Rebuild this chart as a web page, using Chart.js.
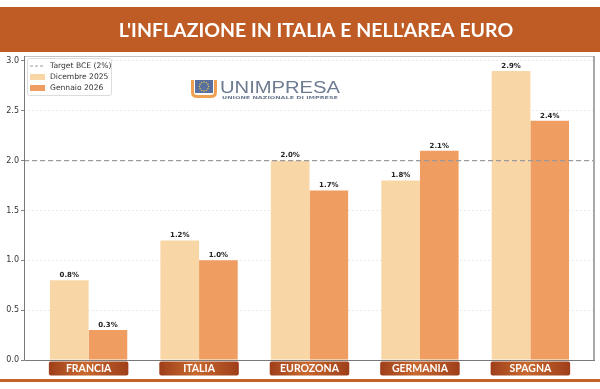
<!DOCTYPE html>
<html>
<head>
<meta charset="utf-8">
<script src="https://cdn.jsdelivr.net/npm/chart.js@4.4.1/dist/chart.umd.min.js"></script>
<style>
  html, body { margin: 0; padding: 0; background: #fff; }
  #wrap { width: 600px; height: 389px; }
</style>
</head>
<body>
<div id="wrap"><canvas id="inflChart" width="600" height="389"></canvas></div>
<script>
// dati
const paesi = ['FRANCIA', 'ITALIA', 'EUROZONA', 'GERMANIA', 'SPAGNA'];
const dicembre2025 = [0.8, 1.2, 2.0, 1.8, 2.9];
const gennaio2026 = [0.3, 1.0, 1.7, 2.1, 2.4];
const targetBce = 2.0;
const yTicks = [0, 0.5, 1.0, 1.5, 2.0, 2.5, 3.0];
const etichette = ['Target BCE (2%)', 'Dicembre 2025', 'Gennaio 2026'];
const titolo = "L'INFLAZIONE IN ITALIA E NELL'AREA EURO";

const X_MIN = -0.585, X_MAX = 4.585;
const COL_DIC = '#F8D6A6';
const COL_GEN = '#F09D62';
const COL_TARGET = '#9a9a9a';

function fitText(ctx, text, x, y, w) {
    const m = ctx.measureText(text).width;
    ctx.save();
    ctx.translate(x, y);
    ctx.scale(w / m, 1);
    ctx.fillText(text, 0, 0);
    ctx.restore();
}

const decorazioni = {
    id: 'decorazioni',
    beforeDraw(chart) {
        const ctx = chart.ctx;
        ctx.save();
        ctx.fillStyle = '#fff';
        ctx.fillRect(0, 0, chart.width, chart.height);
        // fascia del titolo
        ctx.fillStyle = '#BF5B24';
        ctx.fillRect(0, 7, chart.width, 45);
        ctx.fillStyle = '#fff';
        ctx.font = 'bold 19.5px Lato';
        ctx.textAlign = 'center';
        ctx.textBaseline = 'middle';
        ctx.fillText(titolo, 316, 31);
        // linea in basso
        ctx.fillStyle = '#C4622C';
        ctx.fillRect(0, 379, chart.width, 3);
        ctx.restore();
    },
    beforeDatasetsDraw(chart) {
        // logo Unimpresa
        const ctx = chart.ctx;
        ctx.save();
        ctx.fillStyle = '#5B6F9E';
        ctx.fillRect(195, 80, 18, 13);
        ctx.fillStyle = '#E8D24A';
        for (let k = 0; k < 12; k++) {
            const a = k * Math.PI / 6;
            ctx.beginPath();
            ctx.arc(204 + Math.cos(a) * 4.5, 86.5 + Math.sin(a) * 4.5, 0.7, 0, Math.PI * 2);
            ctx.fill();
        }
        ctx.strokeStyle = '#F0A050';
        ctx.lineWidth = 3;
        ctx.beginPath();
        ctx.moveTo(192.5, 80);
        ctx.lineTo(192.5, 92);
        ctx.quadraticCurveTo(192.5, 96.5, 197, 96.5);
        ctx.lineTo(211, 96.5);
        ctx.quadraticCurveTo(215.5, 96.5, 215.5, 92);
        ctx.lineTo(215.5, 80);
        ctx.stroke();
        ctx.fillStyle = '#6E7B91';
        ctx.textBaseline = 'alphabetic';
        ctx.font = '16px "Liberation Sans"';
        fitText(ctx, 'UNIMPRESA', 220, 93, 120);
        ctx.font = 'bold 4px "DejaVu Sans"';
        fitText(ctx, 'UNIONE NAZIONALE DI IMPRESE', 222, 98.5, 116);
        ctx.restore();
    },
    afterDraw(chart) {
        const ctx = chart.ctx;
        const a = chart.chartArea;
        const xs = chart.scales.x;
        ctx.save();
        // cornice
        ctx.strokeStyle = '#c4c4c4';
        ctx.lineWidth = 1;
        ctx.beginPath();
        ctx.moveTo(a.left, a.top + 0.5);
        ctx.lineTo(a.right, a.top + 0.5);
        ctx.stroke();
        ctx.strokeStyle = '#a8a8a8';
        ctx.lineWidth = 2;
        ctx.beginPath();
        ctx.moveTo(a.right - 1, a.top);
        ctx.lineTo(a.right - 1, a.bottom);
        ctx.stroke();
        ctx.strokeStyle = '#7a7a7a';
        ctx.lineWidth = 1;
        ctx.beginPath();
        ctx.moveTo(a.left + 0.5, a.top);
        ctx.lineTo(a.left + 0.5, a.bottom + 0.5);
        ctx.lineTo(a.right, a.bottom + 0.5);
        ctx.stroke();

        // valori sopra le barre
        ctx.fillStyle = '#222';
        ctx.font = 'bold 7px "DejaVu Sans"';
        ctx.textAlign = 'center';
        ctx.textBaseline = 'bottom';
        [1, 2].forEach(di => {
            const vals = chart.data.datasets[di].data;
            chart.getDatasetMeta(di).data.forEach((bar, i) => {
                ctx.fillText(vals[i].y.toFixed(1) + '%', bar.x, bar.y - 1.5);
            });
        });

        // etichette dei paesi
        paesi.forEach((p, i) => {
            const l = xs.getPixelForValue(i - 0.36);
            const r = xs.getPixelForValue(i + 0.36);
            const g = ctx.createLinearGradient(l, 0, r, 0);
            g.addColorStop(0, '#9E3F1A');
            g.addColorStop(0.45, '#C8692F');
            g.addColorStop(1, '#9E3F1A');
            ctx.fillStyle = g;
            ctx.beginPath();
            ctx.roundRect(l, 361.5, r - l, 14, 2);
            ctx.fill();
            ctx.fillStyle = '#fff';
            ctx.font = 'bold 10.5px Lato';
            ctx.textBaseline = 'middle';
            ctx.fillText(p, (l + r) / 2, 369);
        });

        // legenda
        ctx.fillStyle = 'rgba(255,255,255,0.85)';
        ctx.strokeStyle = '#dcdcdc';
        ctx.lineWidth = 1;
        ctx.beginPath();
        ctx.roundRect(27.5, 58.5, 84, 37, 2);
        ctx.fill();
        ctx.stroke();
        ctx.strokeStyle = COL_TARGET;
        ctx.lineWidth = 1.2;
        ctx.setLineDash([3, 2]);
        ctx.beginPath();
        ctx.moveTo(30, 66);
        ctx.lineTo(45, 66);
        ctx.stroke();
        ctx.setLineDash([]);
        ctx.fillStyle = COL_DIC;
        ctx.fillRect(30, 74, 15, 6);
        ctx.fillStyle = COL_GEN;
        ctx.fillRect(30, 85, 15, 6);
        ctx.fillStyle = '#333';
        ctx.font = '7.6px "DejaVu Sans"';
        ctx.textAlign = 'left';
        ctx.textBaseline = 'middle';
        etichette.forEach((t, k) => ctx.fillText(t, 50, 66.5 + k * 11));
        ctx.restore();
    }
};

const ctx = document.getElementById('inflChart').getContext('2d');
new Chart(ctx, {
    type: 'bar',
    data: {
        datasets: [
            {
                type: 'line',
                label: etichette[0],
                data: [{ x: X_MIN, y: targetBce }, { x: X_MAX, y: targetBce }],
                borderColor: COL_TARGET,
                borderWidth: 1.2,
                borderDash: [5, 3],
                pointRadius: 0,
                order: 0
            },
            {
                label: etichette[1],
                data: paesi.map((p, i) => ({ x: i, y: dicembre2025[i] })),
                backgroundColor: COL_DIC,
                categoryPercentage: 0.7,
                barPercentage: 1.0,
                order: 1
            },
            {
                label: etichette[2],
                data: paesi.map((p, i) => ({ x: i, y: gennaio2026[i] })),
                backgroundColor: COL_GEN,
                categoryPercentage: 0.7,
                barPercentage: 1.0,
                order: 1
            }
        ]
    },
    options: {
        responsive: false,
        animation: false,
        layout: { padding: { top: 56, right: 5, bottom: 0, left: 0 } },
        plugins: {
            legend: { display: false },
            tooltip: { enabled: false },
            title: { display: false }
        },
        scales: {
            x: {
                type: 'linear',
                min: X_MIN,
                max: X_MAX,
                offset: false,
                afterBuildTicks: s => { s.ticks = paesi.map((p, i) => ({ value: i })); },
                afterFit: s => { s.height = 29; },
                ticks: { display: false },
                grid: { display: false, offset: false },
                border: { display: false }
            },
            y: {
                min: 0,
                max: 3.05,
                afterBuildTicks: s => { s.ticks = yTicks.map(v => ({ value: v })); },
                afterFit: s => { s.width = 24; },
                ticks: {
                    callback: v => v.toFixed(1),
                    color: '#333',
                    font: { family: 'DejaVu Sans', size: 8 },
                    padding: 2
                },
                grid: {
                    color: 'rgba(0,0,0,0.1)',
                    tickColor: '#666',
                    tickLength: 3,
                    lineWidth: 0.8
                },
                border: { display: false, dash: [2, 2] }
            }
        }
    },
    plugins: [decorazioni]
});
</script>
</body>
</html>
